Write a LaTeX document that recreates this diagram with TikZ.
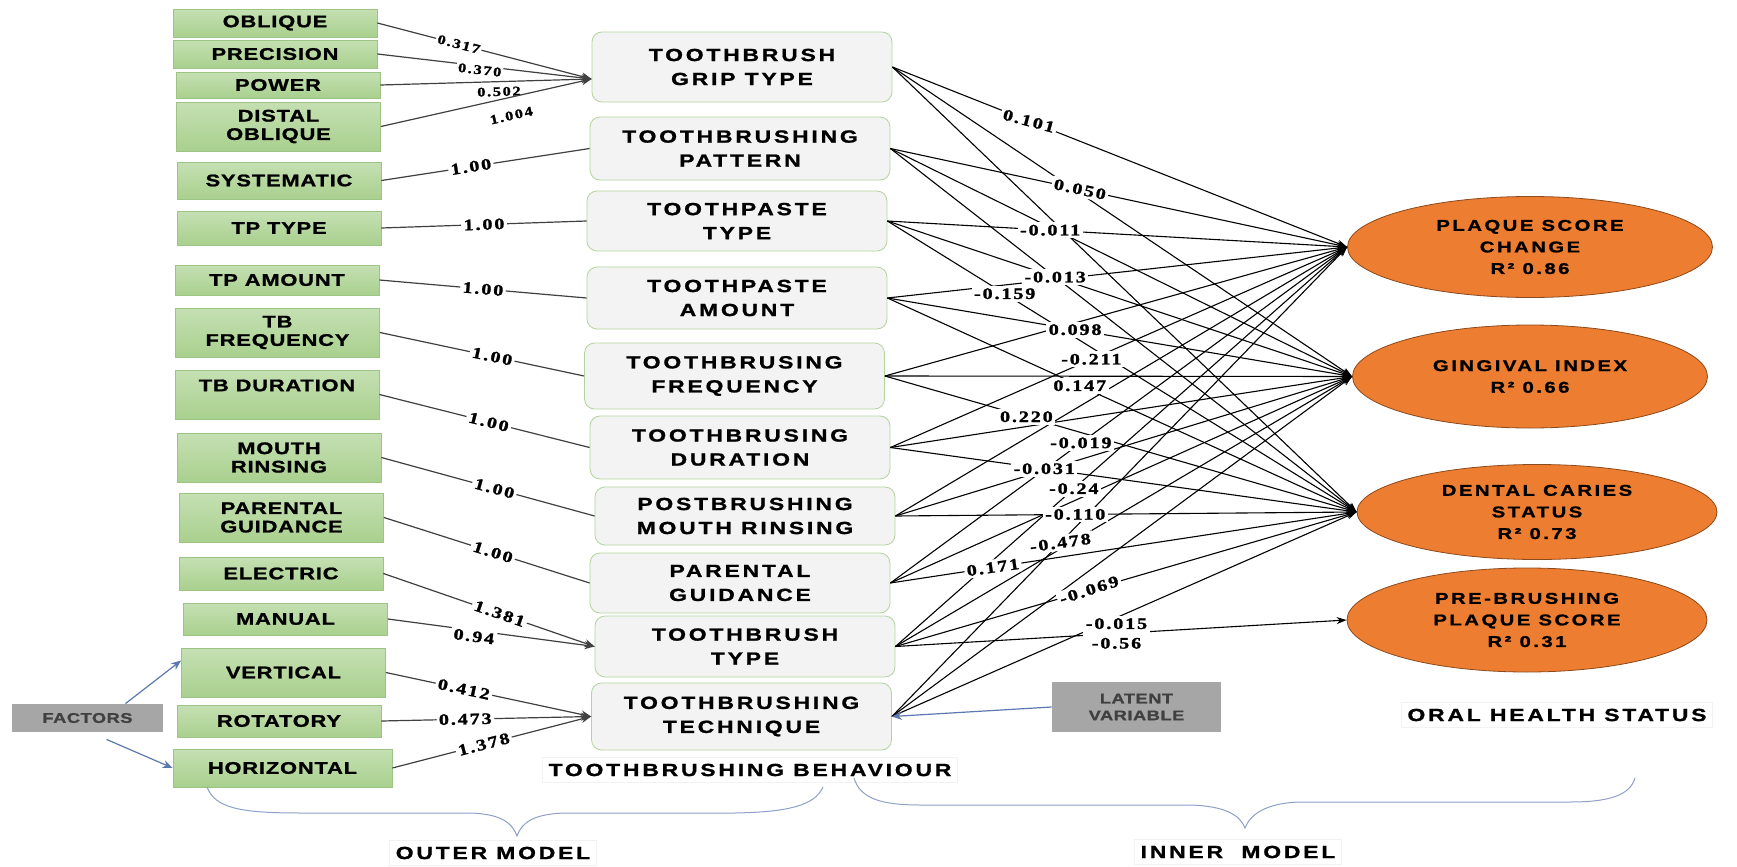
\documentclass[tikz,border=0pt]{standalone}
\usepackage{fontspec}
\setmainfont{Liberation Sans}[FakeStretch=1.3, BoldFeatures={FakeBold=1.2}]
\newfontfamily\coeffont{Liberation Serif}[FakeStretch=1.25, BoldFeatures={FakeBold=1.5}]
\usetikzlibrary{positioning,calc,shapes.geometric,arrows.meta}

\definecolor{indgreen}{HTML}{A9D08E}
\definecolor{indgreenlt}{HTML}{C5E0B3}
\definecolor{indedge}{HTML}{9CC485}
\definecolor{lvfill}{HTML}{F2F3F2}
\definecolor{lvedge}{HTML}{B4D49F}
\definecolor{ohsorange}{HTML}{ED7D31}
\definecolor{ohsedge}{HTML}{8C4A1C}
\definecolor{tagfill}{HTML}{A6A6A6}
\definecolor{bracecol}{HTML}{8EA0C8}
\definecolor{factblue}{HTML}{5B78B0}

\begin{document}
\begin{tikzpicture}[
  x=0.5pt, y=-0.5pt,
  indic/.style   = {rectangle, draw=indedge, top color=indgreenlt, bottom color=indgreen,
                    minimum width=102pt, inner sep=0pt, align=center,
                    font=\fontsize{8.4}{9.2}\selectfont\bfseries\addfontfeature{LetterSpace=5}},
  latent/.style  = {rectangle, rounded corners=5pt, draw=lvedge, fill=lvfill,
                    minimum width=150pt, inner sep=0pt, align=center,
                    font=\fontsize{8.8}{12}\selectfont\bfseries\addfontfeature{LetterSpace=16}},
  outcome/.style = {ellipse, draw=ohsedge, fill=ohsorange, inner sep=0pt, align=center,
                    font=\fontsize{7.8}{10.8}\selectfont\bfseries\addfontfeature{LetterSpace=16}},
  tag/.style     = {rectangle, fill=tagfill, text=black!75, align=center, inner sep=0pt,
                    font=\fontsize{7}{8.4}\selectfont\bfseries\addfontfeature{LetterSpace=4}},
  title/.style   = {rectangle, draw=black!5, inner sep=3pt,
                    font=\fontsize{8.8}{10}\selectfont\bfseries\addfontfeature{LetterSpace=16}},
  coef/.style    = {fill=white, inner sep=1.2pt, align=center,
                    font=\coeffont\bfseries\fontsize{8}{8.8}\selectfont\addfontfeature{LetterSpace=12}},
  coefsm/.style  = {coef, inner sep=0.8pt,
                    font=\coeffont\bfseries\fontsize{6.6}{7.4}\selectfont\addfontfeature{LetterSpace=12}},
  load/.style    = {draw=black!75, line width=0.6pt},
  loadarr/.style = {load, -{Stealth[length=5pt,width=4pt]}},
  effect/.style  = {draw=black, line width=0.55pt, -{Stealth[length=5pt,width=3.5pt]}},
  factarr/.style = {draw=factblue, line width=0.6pt, -{Stealth[length=5pt,width=4pt]}},
  brace/.style   = {draw=bracecol, line width=0.5pt}
]
\fill[white] (0,0) rectangle (1737,867);
\useasboundingbox (0,0) rectangle (1737,867);

\node[indic, minimum height=14pt]   (oblique)    at (275,23)    {OBLIQUE};
\node[indic, minimum height=14pt]   (precision)  at (275,54)    {PRECISION};
\node[indic, minimum height=13pt]   (power)      at (278,85)    {POWER};
\node[indic, minimum height=24.5pt] (distal)     at (278.5,126.5) {DISTAL\\OBLIQUE};
\node[indic, minimum height=18.5pt] (systematic) at (279,180.5) {SYSTEMATIC};
\node[indic, minimum height=17pt]   (tptypei)    at (279,228)   {TP TYPE};
\node[indic, minimum height=15pt]   (tpamounti)  at (277,280)   {TP AMOUNT};
\node[indic, minimum height=24.5pt] (tbfreq)     at (277.5,332.5) {TB\\FREQUENCY};
\node[indic, minimum height=24.5pt] (tbdur)      at (277,394.5) {TB DURATION\\\mbox{}};
\node[indic, minimum height=24.5pt] (mouth)      at (279,457.5) {MOUTH\\RINSING};
\node[indic, minimum height=24.5pt] (parental)   at (281.5,517.5) {PARENTAL\\GUIDANCE};
\node[indic, minimum height=16.5pt] (electric)   at (281,573.5) {ELECTRIC};
\node[indic, minimum height=16pt]   (manual)     at (285.5,619) {MANUAL};
\node[indic, minimum height=24.5pt] (vertical)   at (283.5,672.5) {VERTICAL};
\node[indic, minimum height=16pt]   (rotatory)   at (279,721)   {ROTATORY};
\node[indic, minimum width=109.5pt, minimum height=19pt] (horizontal) at (282.5,768) {HORIZONTAL};
\node[tag, minimum width=75.5pt, minimum height=14pt] (factors) at (87.5,718) {FACTORS};

\node[latent, minimum height=35pt]   (grip)      at (742,67)    {TOOTHBRUSH\\GRIP TYPE};
\node[latent, minimum height=31.5pt] (pattern)   at (740,148.5) {TOOTHBRUSHING\\PATTERN};
\node[latent, minimum height=30pt]   (tptype)    at (737,221)   {TOOTHPASTE\\TYPE};
\node[latent, minimum height=31pt]   (tpamount)  at (737,298)   {TOOTHPASTE\\AMOUNT};
\node[latent, minimum height=33pt]   (freq)      at (734.5,376) {TOOTHBRUSING\\FREQUENCY};
\node[latent, minimum height=31.5pt] (duration)  at (740,447.5) {TOOTHBRUSING\\DURATION};
\node[latent, minimum height=29pt]   (rinsing)   at (745,516)   {POSTBRUSHING\\MOUTH RINSING};
\node[latent, minimum height=30pt]   (guidance)  at (740,583)   {PARENTAL\\GUIDANCE};
\node[latent, minimum height=30.5pt] (tbtype)    at (745,646.5) {TOOTHBRUSH\\TYPE};
\node[latent, minimum height=33.5pt] (technique) at (741.5,716.5) {TOOTHBRUSHING\\TECHNIQUE};

\node[outcome, minimum width=182.5pt, minimum height=50.5pt] (psc)  at (1530,247)   {PLAQUE SCORE\\CHANGE\\R² 0.86};
\node[outcome, minimum width=177.5pt, minimum height=51.5pt] (gi)   at (1530,376.5) {GINGIVAL INDEX\\R² 0.66};
\node[outcome, minimum width=180pt,   minimum height=47.5pt] (dcs)  at (1537,512)   {DENTAL CARIES\\STATUS\\R² 0.73};
\node[outcome, minimum width=180pt,   minimum height=52pt]   (preb) at (1527,620)   {PRE-BRUSHING\\PLAQUE SCORE\\R² 0.31};

\node[tag, minimum width=84.5pt, minimum height=25pt] (lvtag) at (1136.5,707) {LATENT\\VARIABLE};

\node[title] (behaviour) at (750,770)  {TOOTHBRUSHING BEHAVIOUR};
\node[title] (ohs)       at (1557,715) {ORAL HEALTH STATUS};
\node[title] (outer)     at (493,853)  {OUTER MODEL};
\node[title] (inner)     at (1238,852) {INNER~~MODEL};

\draw[loadarr] (oblique.east)   -- node[coefsm, sloped, pos=.38] {0.317} ([yshift=-6pt]grip.west);
\draw[loadarr] (precision.east) -- node[coefsm, sloped, pos=.48, yshift=-2pt] {0.370} ([yshift=-6pt]grip.west);
\draw[loadarr] (power.east)     -- node[coefsm, sloped, pos=.56, yshift=-5pt] {0.502} ([yshift=-6pt]grip.west);
\draw[loadarr] (distal.east)    -- node[coefsm, sloped, pos=.60, yshift=-9pt] {1.004} ([yshift=-6pt]grip.west);
\draw[load] (systematic.east) -- node[coef, sloped, pos=.43] {1.00} (pattern.west);
\draw[load] (tptypei.east)    -- node[coef, sloped, pos=.50] {1.00} (tptype.west);
\draw[load] (tpamounti.east)  -- node[coef, sloped, pos=.50] {1.00} (tpamount.west);
\draw[load] (tbfreq.east)     -- node[coef, sloped, pos=.55] {1.00} (freq.west);
\draw[load] (tbdur.east)      -- node[coef, sloped, pos=.52] {1.00} (duration.west);
\draw[load] (mouth.east)      -- node[coef, sloped, pos=.53] {1.00} (rinsing.west);
\draw[load] (parental.east)   -- node[coef, sloped, pos=.53] {1.00} (guidance.west);
\draw[loadarr] (electric.east)   -- node[coef, sloped, pos=.55] {1.381} (tbtype.west);
\draw[loadarr] (manual.east)     -- node[coef, sloped, pos=.42, yshift=-3pt] {0.94} (tbtype.west);
\draw[loadarr] (vertical.east)   -- node[coef, sloped, pos=.38] {0.412} (technique.west);
\draw[loadarr] (rotatory.east)   -- node[coef, sloped, pos=.40] {0.473} (technique.west);
\draw[loadarr] (horizontal.east) -- node[coef, sloped, pos=.46] {1.378} (technique.west);

\foreach \src in {grip,pattern,tptype,tpamount,freq,duration,rinsing,guidance,tbtype,technique}
  \foreach \dst in {psc,gi,dcs}
    \draw[effect] (\src.east) -- (\dst.west);
\draw[effect] (tbtype.east) -- (preb.west);

\node[coef, rotate=-15] (c01) at ($(grip.east)!.30!(psc.west)$)       {0.101};
\node[coef, rotate=-12] (c02) at ($(pattern.east)!.415!(psc.west)$)   {0.050};
\node[coef]             (c03) at ($(tptype.east)!.354!(psc.west)$)    {-0.011};
\node[coef]             (c04) at ($(tptype.east)!.361!(gi.west)$)     {-0.013};
\node[coef]             (c05) at ($(tptype.east)!.25!(dcs.west)$)     {-0.159};
\node[coef]             (c06) at ($(tpamount.east)!.404!(gi.west)$)   {0.098};
\node[coef]             (c07) at ($(duration.east)!.44!(psc.west)$)   {-0.211};
\node[coef]             (c08) at ($(tpamount.east)!.41!(dcs.west)$)   {0.147};
\node[coef]             (c09) at ($(freq.east)!.30!(dcs.west)$)       {0.220};
\node[coef]             (c10) at ($(guidance.east)!.417!(psc.west)$)  {-0.019};
\node[coef]             (c11) at ($(duration.east)!.33!(dcs.west)$)   {-0.031};
\node[coef]             (c12) at ($(tbtype.east)!.395!(psc.west)$)    {-0.24};
\node[coef]             (c13) at ($(rinsing.east)!.39!(dcs.west)$)    {-0.110};
\node[coef, rotate=8]   (c14) at ($(technique.east)!.37!(psc.west)$)  {-0.478};
\node[coef, rotate=8]   (c15) at ($(guidance.east)!.22!(dcs.west)$)   {0.171};
\node[coef, rotate=18]  (c16) at ($(tbtype.east)!.42!(dcs.west)$)     {-0.069};
\node[coef]             (c17) at ($(tbtype.east)!.49!(preb.west)$)    {-0.015\\[1pt]-0.56};

\draw[factarr] (lvtag.west) -- (technique.east);
\draw[factarr] ($(factors.north)!.5!(factors.north east)$) -- ([yshift=6pt]vertical.west);
\draw[factarr] ($(factors.south)!.25!(factors.south east)+(0,7)$) -- (horizontal.west);

\draw[brace] (207,787) .. controls (215,808) and (240,813) .. (300,813) -- (470,813)
  .. controls (500,814) and (512,822) .. (517,836)
  .. controls (522,822) and (534,814) .. (565,813) -- (735,813)
  .. controls (790,812) and (815,805) .. (823,787);
\draw[brace] (854,778) .. controls (860,798) and (880,805) .. (920,805) -- (1190,805)
  .. controls (1225,806) and (1240,815) .. (1245,828)
  .. controls (1250,815) and (1265,803) .. (1300,802) -- (1570,802)
  .. controls (1610,802) and (1630,795) .. (1635,778);
\end{tikzpicture}
\end{document}
